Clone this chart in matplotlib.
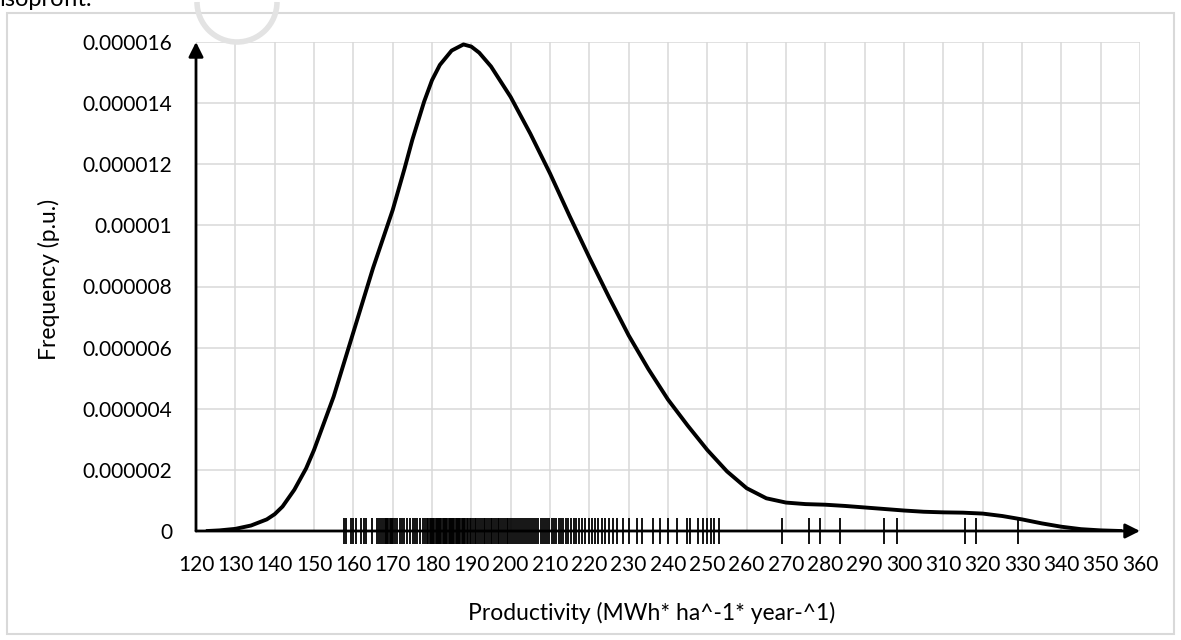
"""Kernel density of productivity with rug of samples."""

import matplotlib

matplotlib.use("Agg")
import matplotlib.pyplot as plt
from matplotlib.patches import Rectangle, Arc

plt.rcParams["font.family"] = ["Lato", "DejaVu Sans"]

# density curve (x in MWh/ha/yr, y in p.u. x 1e-6)
curve_x = [123, 126, 130, 134, 138, 140, 142, 145, 148, 150, 155, 160, 165,
           170, 173, 175, 178, 180, 182, 185, 188, 190, 192, 195, 200, 205,
           210, 215, 220, 225, 230, 235, 240, 245, 250, 255, 260, 265, 270,
           275, 280, 285, 290, 295, 300, 305, 310, 315, 320, 325, 330, 335,
           340, 345, 350, 355]
curve_y = [0.0, 0.02, 0.07, 0.18, 0.38, 0.55, 0.8, 1.35, 2.05, 2.65, 4.4, 6.5, 8.6,
           10.5, 11.85, 12.8, 14.05, 14.75, 15.25, 15.72, 15.92, 15.85, 15.65, 15.2, 14.2, 13.0,
           11.7, 10.3, 8.95, 7.65, 6.4, 5.3, 4.3, 3.45, 2.65, 1.95, 1.4, 1.07, 0.93,
           0.88, 0.86, 0.82, 0.77, 0.72, 0.67, 0.63, 0.61, 0.6, 0.57, 0.49, 0.38, 0.25,
           0.14, 0.06, 0.02, 0.0]

# individual samples shown as rug
samples = [
    157.5, 158.1, 159.3, 159.8, 160.8, 161.9, 162.7, 163.2, 164.7, 165.9,
    166.5, 167.0, 167.5, 168.0, 168.3, 168.6, 168.9, 169.2, 169.5, 169.8,
    170.1, 170.6, 171.2, 171.9, 172.3, 172.9, 173.6, 174.4, 175.1, 175.7,
    176.3, 177.0, 177.6, 178.2, 178.8, 179.1, 179.4, 179.7, 180.0, 180.3,
    180.6, 180.9, 181.2, 181.5, 181.8, 182.1, 182.4, 182.7, 183.0, 183.3,
    183.6, 183.9, 184.2, 184.5, 184.8, 185.1, 185.4, 185.7, 186.0, 186.3,
    186.6, 186.9, 187.2, 187.5, 187.8, 188.1, 188.4, 188.8, 189.2, 189.6,
    190.0, 190.5, 190.9, 191.3, 191.8, 192.2, 192.6, 193.1, 193.5, 194.0,
    194.4, 194.9, 195.3, 195.8, 196.2, 196.7, 197.1, 197.6, 198.0, 198.5,
    199.0, 199.4, 199.9, 200.4, 200.9, 201.3, 201.8, 202.3, 202.8, 203.3,
    203.8, 204.3, 204.8, 205.4, 205.9, 206.5, 207.0, 207.6, 208.1, 208.7,
    209.2, 209.8, 210.4, 211.0, 211.6, 212.2, 212.8, 213.4, 214.0, 214.7,
    215.4, 216.0, 216.7, 217.4, 218.2, 219.0, 219.8, 220.6, 221.4, 222.3,
    223.2, 224.1, 225.0, 226.0, 227.0, 228.6, 230.2, 232.0, 233.3, 236.3,
    238.0, 240.1, 242.2, 244.8, 245.6, 247.7, 248.8, 249.8, 250.9, 251.8,
    253.0, 268.9, 275.9, 278.7, 283.7, 295.0, 298.3, 315.5, 318.3, 329.1,
]

x_ticks = list(range(120, 361, 10))
y_ticks = [0, 2e-6, 4e-6, 6e-6, 8e-6, 10e-6, 12e-6, 14e-6, 16e-6]
y_tick_labels = ["0", "0.000002", "0.000004", "0.000006", "0.000008",
                 "0.00001", "0.000012", "0.000014", "0.000016"]

fig = plt.figure(figsize=(11.81, 6.40), dpi=100)
ax = fig.add_axes([196 / 1181, 1 - 531 / 640, 944 / 1181, 489 / 640])

# outer chart frame and the page remnants above it
fig.patches.append(Rectangle((7 / 1181, 1 - 634 / 640), 1167 / 1181, 621 / 640,
                             transform=fig.transFigure, fill=False,
                             edgecolor="#d9d9d9", linewidth=1.5))
fig.patches.append(Arc((237 / 1181, 1 - 2 / 640), 80 / 1181, 80 / 640, theta1=180, theta2=360,
                       transform=fig.transFigure, edgecolor="#e3e3e3", linewidth=4))
fig.text(0.0, 1 - 0 / 640, "isoprofit.", fontsize=17, va="center", ha="left")

ax.plot(curve_x, [v * 1e-6 for v in curve_y], color="black", linewidth=2.8,
        solid_joinstyle="round", zorder=4)
ax.vlines(samples, -0.44e-6, 0.44e-6, color="black", linewidth=1.3, zorder=3, clip_on=False)

ax.set_xlim(120, 360)
ax.set_ylim(0, 16e-6)
ax.set_xticks(x_ticks)
ax.set_yticks(y_ticks)
ax.set_yticklabels(y_tick_labels)
ax.tick_params(length=0, labelsize=15, pad=17)
ax.grid(True, color="#d9d9d9", linewidth=1.1)
ax.set_axisbelow(True)
for side in ["left", "bottom", "top", "right"]:
    ax.spines[side].set_visible(False)

arrow = dict(arrowstyle="-|>", color="black", linewidth=2, mutation_scale=22, shrinkA=0, shrinkB=0)
ax.annotate("", xy=(120, 16e-6), xytext=(120, 0), arrowprops=arrow, annotation_clip=False)
ax.annotate("", xy=(360, 0), xytext=(120, 0), arrowprops=arrow, annotation_clip=False)

ax.set_xlabel("Productivity (MWh* ha^-1* year-^1)", fontsize=16.5)
ax.set_ylabel("Frequency (p.u.)", fontsize=16.5)
ax.xaxis.set_label_coords(0.483, -0.145)
ax.yaxis.set_label_coords(-0.144, 0.515)

fig.savefig("out.png", dpi=100)
